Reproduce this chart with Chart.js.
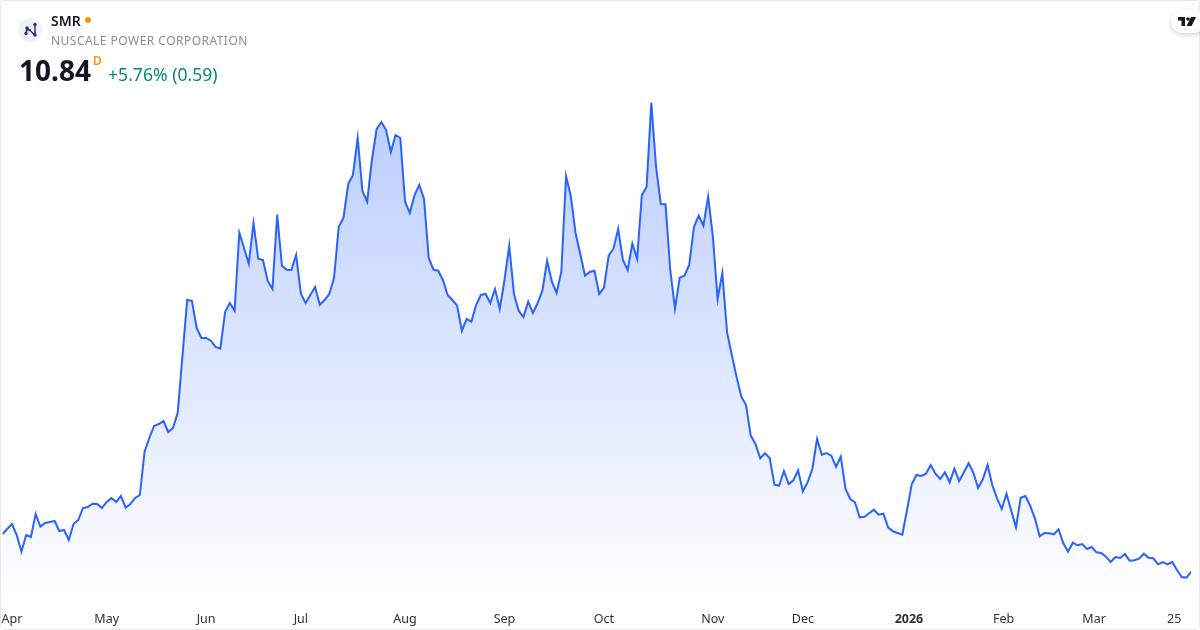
<!DOCTYPE html>
<html>
<head>
<meta charset="utf-8">
<title>SMR</title>
<script src="https://cdn.jsdelivr.net/npm/chart.js@4"></script>
<style>
    html, body { margin: 0; padding: 0; background: #fff; }
    body { width: 1200px; height: 630px; position: relative; overflow: hidden; font-family: "Noto Sans", sans-serif; }
    #card { position: absolute; left: 0; top: 0; width: 1198px; height: 628px; border: 1px solid #e6e8ee; border-radius: 4px; }
    #priceChart { position: absolute; left: 0; top: 0; }
    .txt { position: absolute; white-space: nowrap; line-height: 1; }
    #symbol { left: 51px; top: 14px; font-size: 14px; font-weight: 600; color: #131722; }
    #statusDot { position: absolute; left: 85px; top: 17px; width: 6px; height: 6px; border-radius: 50%; background: #ff9800; }
    #company { left: 51px; top: 35px; font-size: 12px; color: #8b8e96; letter-spacing: 0.47px; }
    #price { left: 19px; top: 56px; font-size: 28px; font-weight: 700; color: #131722; }
    #delayed { left: 93px; top: 55px; font-size: 12px; font-weight: 600; color: #ff9800; }
    #change { left: 108px; top: 66px; font-size: 17.6px; color: #0a8a76; }
    #logo { position: absolute; left: 18px; top: 18px; }
    #tvBadge { position: absolute; left: 1171px; top: 10px; width: 34px; height: 23px; border-radius: 12px; background: #fff; box-shadow: 0 2px 5px rgba(0,0,0,0.16); }
    #tvBadge svg { position: absolute; left: 6.5px; top: 6.5px; }
</style>
</head>
<body>
<div id="card"></div>
<canvas id="priceChart" width="1200" height="630"></canvas>

<svg id="logo" width="24" height="24" viewBox="0 0 24 24">
    <circle cx="12" cy="12" r="12" fill="#eef1fa"/>
    <path d="M9 10 L8 15.5 M9 10 L17 17 M17 17 L17 6.5 M8 12 L13 12" stroke="#27306f" stroke-width="1.4" fill="none"/>
    <circle cx="9" cy="10" r="1.7" fill="#27306f"/>
    <circle cx="8" cy="15.5" r="1.7" fill="#27306f"/>
    <circle cx="17" cy="17" r="1.7" fill="#27306f"/>
    <circle cx="17" cy="6.5" r="1.7" fill="#27306f"/>
</svg>
<div class="txt" id="symbol">SMR</div>
<div id="statusDot"></div>
<div class="txt" id="company">NUSCALE POWER CORPORATION</div>
<div class="txt" id="price">10.84</div>
<div class="txt" id="delayed">D</div>
<div class="txt" id="change">+5.76% (0.59)</div>
<div id="tvBadge">
    <svg width="18" height="10" viewBox="0 0 18 10">
        <path d="M0 0 H7 V9 H3.5 V3.5 H0 Z M13 0 H18 L13.5 9 H8.5 Z" fill="#131722"/>
        <circle cx="10" cy="2" r="1.8" fill="#131722"/>
    </svg>
</div>

<script>
// daily closes
const closes = [
    14.61, 15.11, 15.61, 14.51, 12.84, 14.51, 14.31, 16.61, 15.34, 15.71,
    15.81, 15.91, 14.91, 15.01, 14.01, 15.61, 16.01, 17.21, 17.31, 17.64,
    17.61, 17.21, 17.81, 18.21, 17.81, 18.41, 17.24, 17.61, 18.21, 18.51,
    22.84, 24.21, 25.41, 25.61, 25.91, 24.81, 25.21, 26.74, 32.41, 38.04,
    37.91, 35.21, 34.21, 34.21, 33.94, 33.31, 33.14, 36.81, 37.71, 36.94,
    44.74, 43.21, 41.64, 45.71, 42.14, 42.01, 39.91, 39.11, 46.54, 41.44,
    41.04, 41.01, 42.51, 38.64, 37.71, 38.51, 39.31, 37.54, 38.01, 38.61,
    40.21, 45.34, 46.24, 49.61, 50.51, 54.24, 48.91, 47.84, 52.01, 55.11,
    55.81, 55.01, 52.81, 54.51, 54.21, 47.84, 46.71, 48.51, 49.51, 48.14,
    42.21, 41.04, 40.94, 40.01, 38.51, 38.01, 37.44, 34.91, 36.11, 35.84,
    37.51, 38.51, 38.61, 37.71, 39.11, 37.11, 40.01, 43.44, 38.61, 36.94,
    36.31, 37.84, 36.71, 37.71, 38.94, 41.94, 39.84, 38.71, 40.84, 50.41,
    48.41, 44.71, 42.61, 40.44, 40.81, 40.94, 38.61, 39.24, 42.44, 43.14,
    45.11, 42.01, 41.01, 43.64, 42.11, 48.51, 49.31, 57.74, 51.34, 47.61,
    47.58, 41.01, 37.14, 40.24, 40.44, 41.51, 45.31, 46.44, 45.44, 48.34,
    44.34, 38.11, 40.71, 34.74, 32.51, 30.34, 28.34, 27.51, 24.44, 23.61,
    22.18, 22.68, 22.21, 19.54, 19.44, 20.91, 19.61, 19.98, 20.98, 18.88,
    19.78, 21.11, 24.11, 22.54, 22.71, 22.44, 21.34, 22.34, 19.14, 18.11,
    17.78, 16.28, 16.34, 16.68, 17.04, 16.54, 16.64, 15.28, 14.88, 14.71,
    14.54, 17.01, 19.61, 20.51, 20.41, 20.64, 21.51, 20.64, 20.11, 20.78,
    19.78, 21.14, 19.91, 20.78, 21.68, 20.74, 19.21, 20.08, 21.51, 19.51,
    18.18, 17.11, 18.64, 16.94, 15.28, 18.24, 18.41, 17.44, 16.18, 14.38,
    14.71, 14.68, 14.58, 15.08, 13.68, 12.84, 13.74, 13.48, 13.61, 13.11,
    13.31, 12.78, 12.71, 12.34, 11.81, 12.31, 12.21, 12.61, 11.94, 11.98,
    12.14, 12.64, 12.24, 12.18, 11.58, 11.81, 11.58, 11.81, 11.01, 10.31,
    10.25, 10.84
];

// x axis labels and the trading day each one sits on
const tickLabels = ['Apr', 'May', 'Jun', 'Jul', 'Aug', 'Sep', 'Oct', 'Nov', 'Dec', '2026', 'Feb', 'Mar', '25'];
const tickDays = [2, 22, 43, 63, 85, 106, 127, 150, 169, 191.4, 211.4, 230.5, 247.4];

const dayIndex = closes.map(function(_, i) { return i; });

const ctx = document.getElementById('priceChart').getContext('2d');

function areaGradient(context) {
    const area = context.chart.chartArea;
    if (!area) return 'rgba(41, 98, 255, 0.1)';
    const g = context.chart.ctx.createLinearGradient(0, area.top, 0, area.bottom);
    g.addColorStop(0, 'rgba(41, 98, 255, 0.33)');
    g.addColorStop(1, 'rgba(41, 98, 255, 0)');
    return g;
}

new Chart(ctx, {
    type: 'line',
    data: {
        labels: dayIndex,
        datasets: [{
            data: closes,
            borderColor: '#2962ff',
            borderWidth: 2,
            pointRadius: 0,
            tension: 0,
            fill: 'start',
            backgroundColor: areaGradient
        }]
    },
    options: {
        responsive: false,
        animation: false,
        layout: { padding: { left: 2.5, right: 8.8, top: 90, bottom: 0 } },
        plugins: { legend: { display: false }, tooltip: { enabled: false } },
        scales: {
            x: {
                type: 'linear',
                min: 0,
                max: 251,
                border: { display: false },
                grid: { display: false },
                afterBuildTicks: function(scale) {
                    scale.ticks = tickDays.map(function(d) { return { value: d }; });
                },
                afterFit: function(scale) {
                    scale.height = 27;
                    scale.paddingLeft = 0;
                    scale.paddingRight = 0;
                },
                ticks: {
                    autoSkip: false,
                    maxRotation: 0,
                    padding: 1,
                    color: '#2e3138',
                    font: function(c) {
                        const bold = c.tick && c.index === tickLabels.indexOf('2026');
                        return { family: '"Noto Sans", sans-serif', size: 12.5, weight: bold ? 'bold' : 'normal' };
                    },
                    callback: function(value, i) { return tickLabels[i]; }
                }
            },
            y: {
                display: false,
                min: 7.71,
                max: 59.01
            }
        }
    }
});
</script>
</body>
</html>
